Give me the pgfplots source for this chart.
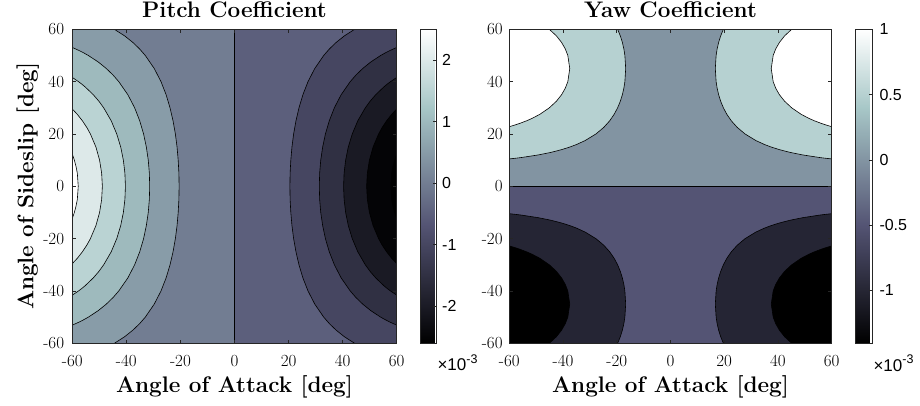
\documentclass[border=0pt]{standalone}
\usepackage{fontspec}
\usepackage{pgfplots}
\pgfplotsset{compat=1.18}
\newfontfamily\cbfont{Liberation Sans}

% bone colormap colours at the contour levels
\definecolor{p20}{rgb}{0.865,0.914,0.914}
\definecolor{p15}{rgb}{0.730,0.828,0.828}
\definecolor{p10}{rgb}{0.618,0.728,0.743}
\definecolor{p05}{rgb}{0.532,0.610,0.657}
\definecolor{p00}{rgb}{0.446,0.491,0.571}
\definecolor{pm05}{rgb}{0.360,0.373,0.485}
\definecolor{pm10}{rgb}{0.275,0.275,0.379}
\definecolor{pm15}{rgb}{0.189,0.189,0.261}
\definecolor{pm20}{rgb}{0.103,0.103,0.142}
\definecolor{pm25}{rgb}{0.017,0.017,0.024}
\definecolor{y05}{rgb}{0.714,0.818,0.818}
\definecolor{y00}{rgb}{0.511,0.581,0.636}
\definecolor{ym05}{rgb}{0.329,0.330,0.454}
\definecolor{ym10}{rgb}{0.147,0.147,0.204}

\pgfplotsset{
  contax/.style={
    scale only axis, height=314bp,
    xmin=-60, xmax=60, ymin=-60, ymax=60,
    axis on top, tick align=inside, major tick length=3.5bp,
    xtick={-60,-40,-20,0,20,40,60}, xticklabels={-60,-40,-20,0,20,40,60},
    ytick={-60,-40,-20,0,20,40,60}, yticklabels={-60,-40,-20,0,20,40,60},
    tick label style={font=\fontsize{17bp}{20bp}\selectfont},
    xticklabel style={inner sep=0pt, anchor=north, yshift=-11.7bp},
    axis line style={black!85, line width=0.6bp},
    tick style={black!85, line width=0.6bp},
    every axis title/.style={at={(axis description cs:0.5,1)}, anchor=base, yshift=11.6bp,
      font=\bfseries\fontsize{22.5bp}{26bp}\selectfont},
    every axis x label/.style={at={(axis description cs:0.5,0)}, anchor=base, yshift=-49.4bp,
      font=\bfseries\fontsize{22.5bp}{26bp}\selectfont},
    colormap={bone}{rgb(0bp)=(0,0,0) rgb(3bp)=(0.328125,0.328125,0.453125)
      rgb(6bp)=(0.65625,0.78125,0.78125) rgb(8bp)=(1,1,1)},
    colorbar,
  },
  reg/.style={draw=black, line width=0.6bp, fill=#1},
  cbar/.style={
    at={(parent axis.north east)}, anchor=north west,
    scale only axis, height=314bp,
    ytick pos=right, yticklabel pos=right,
    tick align=inside, major tick length=3bp,
    yticklabel style={font=\cbfont\fontsize{16bp}{18bp}\selectfont,
      inner sep=0pt, anchor=west},
    axis line style={black!85, line width=0.6bp},
    tick style={black!85, line width=0.6bp},
  },
}

\begin{document}
\begin{tikzpicture}
\path[use as bounding box] (0,0) rectangle (920bp,-406bp);

% ---------------- Pitch coefficient ----------------
\begin{axis}[contax, at={(72.3bp,-29.3bp)}, anchor=north west, width=324.4bp,
  yticklabel style={inner sep=0pt, anchor=east, xshift=-8bp},
  title={Pitch Coefficient}, xlabel={Angle of Attack [deg]},
  ylabel={Angle of Sideslip [deg]},
  every axis y label/.style={at={(axis description cs:-0.1202,0.5)}, anchor=base, rotate=90,
    font=\bfseries\fontsize{22.5bp}{26bp}\selectfont},
  point meta min=-2.6, point meta max=2.5,
  colorbar style={cbar, xshift=15.5bp, width=15.3bp,
    ytick={-2,-1,0,1,2}, yticklabels={-2,-1,0,1,2},
    yticklabel style={xshift=6bp}},
]
% base half planes
\addplot[reg=p00] coordinates {(-60,-60) (0,-60) (0,60) (-60,60) (-60,-60)};
\addplot[reg=pm05] coordinates {(0,-60) (60,-60) (60,60) (0,60) (0,-60)};
% positive side (alpha < 0)
\addplot[reg=p05] coordinates {(-60,60) (-44.44,60) (-40.66,57.5) (-37.62,55) (-35.11,52.5) (-33.00,50) (-29.68,45) (-27.19,40) (-25.30,35) (-23.85,30) (-22.73,25) (-21.87,20) (-21.25,15) (-20.83,10) (-20.57,5) (-20.49,0) (-20.57,-5) (-20.83,-10) (-21.25,-15) (-21.87,-20) (-22.73,-25) (-23.85,-30) (-25.30,-35) (-27.19,-40) (-29.68,-45) (-33.00,-50) (-35.11,-52.5) (-37.62,-55) (-40.66,-57.5) (-44.44,-60) (-60,-60) (-60,60)};
\addplot[reg=p10] coordinates {(-60,53.06) (-57.73,52) (-55.80,51) (-54.07,50) (-50.39,47.5) (-47.41,45) (-44.91,42.5) (-42.81,40) (-39.45,35) (-36.94,30) (-35.05,25) (-33.63,20) (-32.61,15) (-31.90,10) (-31.50,5) (-31.37,0) (-31.50,-5) (-31.90,-10) (-32.61,-15) (-33.63,-20) (-35.05,-25) (-36.94,-30) (-39.45,-35) (-42.81,-40) (-44.91,-42.5) (-47.41,-45) (-50.39,-47.5) (-54.07,-50) (-55.80,-51) (-57.73,-52) (-60,-53.06) (-60,53.06)};
\addplot[reg=p15] coordinates {(-60,41.60) (-57.71,40) (-56.43,39) (-55.26,38) (-52.23,35) (-50.15,32.5) (-48.39,30) (-45.59,25) (-43.56,20) (-42.09,15) (-41.11,10) (-40.54,5) (-40.35,0) (-40.54,-5) (-41.11,-10) (-42.09,-15) (-43.56,-20) (-45.59,-25) (-48.39,-30) (-50.15,-32.5) (-52.23,-35) (-55.26,-38) (-56.43,-39) (-57.71,-40) (-60,-41.60) (-60,41.60)};
\addplot[reg=p20] coordinates {(-60,29.54) (-58.14,27.5) (-56.24,25) (-54.64,22.5) (-53.30,20) (-51.26,15) (-49.91,10) (-49.14,5) (-48.88,0) (-49.14,-5) (-49.91,-10) (-51.26,-15) (-53.30,-20) (-54.64,-22.5) (-56.24,-25) (-58.14,-27.5) (-60,-29.54) (-60,29.54)};
\addplot[reg=white] coordinates {(-60,12.29) (-59.24,10) (-58.61,7.5) (-58.14,5) (-57.80,0) (-58.14,-5) (-58.61,-7.5) (-59.24,-10) (-60,-12.29) (-60,12.29)};
% negative side (alpha > 0)
\addplot[reg=pm10] coordinates {(60,60) (44.44,60) (40.66,57.5) (37.62,55) (35.11,52.5) (33.00,50) (29.68,45) (27.19,40) (25.30,35) (23.85,30) (22.73,25) (21.87,20) (21.25,15) (20.83,10) (20.57,5) (20.49,0) (20.57,-5) (20.83,-10) (21.25,-15) (21.87,-20) (22.73,-25) (23.85,-30) (25.30,-35) (27.19,-40) (29.68,-45) (33.00,-50) (35.11,-52.5) (37.62,-55) (40.66,-57.5) (44.44,-60) (60,-60) (60,60)};
\addplot[reg=pm15] coordinates {(60,53.06) (57.73,52) (55.80,51) (54.07,50) (50.39,47.5) (47.41,45) (44.91,42.5) (42.81,40) (39.45,35) (36.94,30) (35.05,25) (33.63,20) (32.61,15) (31.90,10) (31.50,5) (31.37,0) (31.50,-5) (31.90,-10) (32.61,-15) (33.63,-20) (35.05,-25) (36.94,-30) (39.45,-35) (42.81,-40) (44.91,-42.5) (47.41,-45) (50.39,-47.5) (54.07,-50) (55.80,-51) (57.73,-52) (60,-53.06) (60,53.06)};
\addplot[reg=pm20] coordinates {(60,41.60) (57.71,40) (56.43,39) (55.26,38) (52.23,35) (50.15,32.5) (48.39,30) (45.59,25) (43.56,20) (42.09,15) (41.11,10) (40.54,5) (40.35,0) (40.54,-5) (41.11,-10) (42.09,-15) (43.56,-20) (45.59,-25) (48.39,-30) (50.15,-32.5) (52.23,-35) (55.26,-38) (56.43,-39) (57.71,-40) (60,-41.60) (60,41.60)};
\addplot[reg=pm25] coordinates {(60,29.54) (58.14,27.5) (56.24,25) (54.64,22.5) (53.30,20) (51.26,15) (49.91,10) (49.14,5) (48.88,0) (49.14,-5) (49.91,-10) (51.26,-15) (53.30,-20) (54.64,-22.5) (56.24,-25) (58.14,-27.5) (60,-29.54) (60,29.54)};
\addplot[reg=black] coordinates {(60,12.29) (59.24,10) (58.61,7.5) (58.14,5) (57.80,0) (58.14,-5) (58.61,-7.5) (59.24,-10) (60,-12.29) (60,12.29)};
\end{axis}

% ---------------- Yaw coefficient ----------------
\begin{axis}[contax, at={(509.3bp,-29.3bp)}, anchor=north west, width=322.4bp,
  yticklabel style={inner sep=0pt, anchor=east, xshift=-6.5bp},
  title={Yaw Coefficient}, xlabel={Angle of Attack [deg]},
  point meta min=-1.405, point meta max=1.0,
  colorbar style={cbar, xshift=15.5bp, width=16.6bp,
    ytick={-1,-0.5,0,0.5,1}, yticklabels={-1,-0.5,0,0.5,1},
    yticklabel style={xshift=7bp}},
]
\addplot[reg=y00] coordinates {(-60,0) (60,0) (60,60) (-60,60) (-60,0)};
\addplot[reg=ym05] coordinates {(-60,0) (60,0) (60,-60) (-60,-60) (-60,0)};
% upper, >= 0.5
\addplot[reg=y05] coordinates {(-60,60) (-19.68,60) (-18.68,57.5) (-17.92,55) (-17.36,52.5) (-16.98,50) (-16.68,45) (-16.98,40) (-17.36,37.5) (-17.92,35) (-18.68,32.5) (-19.68,30) (-20.98,27.5) (-22.66,25) (-24.85,22.5) (-27.76,20) (-31.75,17.5) (-34.92,16) (-37.50,15) (-40.59,14) (-44.36,13) (-49.15,12) (-55.51,11) (-57.46,10.75) (-60,10.46) (-60,60)};
\addplot[reg=y05] coordinates {(60,60) (19.68,60) (18.68,57.5) (17.92,55) (17.36,52.5) (16.98,50) (16.68,45) (16.98,40) (17.36,37.5) (17.92,35) (18.68,32.5) (19.68,30) (20.98,27.5) (22.66,25) (24.85,22.5) (27.76,20) (31.75,17.5) (34.92,16) (37.50,15) (40.59,14) (44.36,13) (49.15,12) (55.51,11) (57.46,10.75) (60,10.46) (60,60)};
% upper, >= 1.0
\addplot[reg=white] coordinates {(-60,60) (-45.10,60) (-42.48,57.5) (-40.55,55) (-39.16,52.5) (-38.22,50) (-37.50,45) (-38.22,40) (-39.16,37.5) (-40.55,35) (-42.48,32.5) (-45.10,30) (-48.65,27.5) (-51.44,26) (-53.64,25) (-56.23,24) (-57.69,23.5) (-59.31,23) (-60,22.79) (-60,60)};
\addplot[reg=white] coordinates {(60,60) (45.10,60) (42.48,57.5) (40.55,55) (39.16,52.5) (38.22,50) (37.50,45) (38.22,40) (39.16,37.5) (40.55,35) (42.48,32.5) (45.10,30) (48.65,27.5) (51.44,26) (53.64,25) (56.23,24) (57.69,23.5) (59.31,23) (60,22.79) (60,60)};
% lower, <= -0.5
\addplot[reg=ym10] coordinates {(-60,-60) (-19.68,-60) (-18.68,-57.5) (-17.92,-55) (-17.36,-52.5) (-16.98,-50) (-16.68,-45) (-16.98,-40) (-17.36,-37.5) (-17.92,-35) (-18.68,-32.5) (-19.68,-30) (-20.98,-27.5) (-22.66,-25) (-24.85,-22.5) (-27.76,-20) (-31.75,-17.5) (-34.92,-16) (-37.50,-15) (-40.59,-14) (-44.36,-13) (-49.15,-12) (-55.51,-11) (-57.46,-10.75) (-60,-10.46) (-60,-60)};
\addplot[reg=ym10] coordinates {(60,-60) (19.68,-60) (18.68,-57.5) (17.92,-55) (17.36,-52.5) (16.98,-50) (16.68,-45) (16.98,-40) (17.36,-37.5) (17.92,-35) (18.68,-32.5) (19.68,-30) (20.98,-27.5) (22.66,-25) (24.85,-22.5) (27.76,-20) (31.75,-17.5) (34.92,-16) (37.50,-15) (40.59,-14) (44.36,-13) (49.15,-12) (55.51,-11) (57.46,-10.75) (60,-10.46) (60,-60)};
% lower, <= -1.0
\addplot[reg=black] coordinates {(-60,-60) (-45.10,-60) (-42.48,-57.5) (-40.55,-55) (-39.16,-52.5) (-38.22,-50) (-37.50,-45) (-38.22,-40) (-39.16,-37.5) (-40.55,-35) (-42.48,-32.5) (-45.10,-30) (-48.65,-27.5) (-51.44,-26) (-53.64,-25) (-56.23,-24) (-57.69,-23.5) (-59.31,-23) (-60,-22.79) (-60,-60)};
\addplot[reg=black] coordinates {(60,-60) (45.10,-60) (42.48,-57.5) (40.55,-55) (39.16,-52.5) (38.22,-50) (37.50,-45) (38.22,-40) (39.16,-37.5) (40.55,-35) (42.48,-32.5) (45.10,-30) (48.65,-27.5) (51.44,-26) (53.64,-25) (56.23,-24) (57.69,-23.5) (59.31,-23) (60,-22.79) (60,-60)};
\end{axis}

% colorbar multipliers
\node[anchor=base west, inner sep=0pt] at (437.3bp,-370.7bp)
  {\cbfont\fontsize{17bp}{20bp}\selectfont ×10\raisebox{0.45em}{\fontsize{12.5bp}{14bp}\selectfont -3}};
\node[anchor=base west, inner sep=0pt] at (873.3bp,-371.5bp)
  {\cbfont\fontsize{17bp}{20bp}\selectfont ×10\raisebox{0.45em}{\fontsize{12.5bp}{14bp}\selectfont -3}};
\end{tikzpicture}
\end{document}
